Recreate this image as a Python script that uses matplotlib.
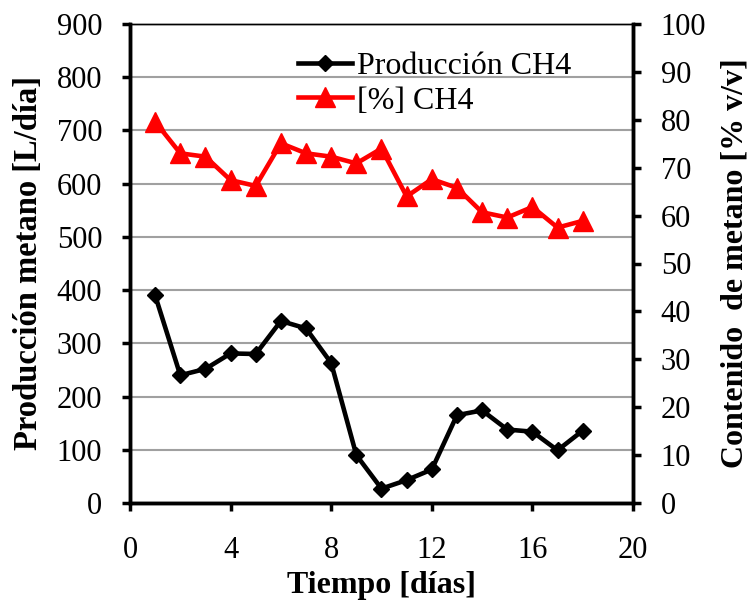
import matplotlib.pyplot as plt

plt.rcParams['font.family'] = ['Liberation Serif', 'DejaVu Serif']

dias = [1, 2, 3, 4, 5, 6, 7, 8, 9, 10, 11, 12, 13, 14, 15, 16, 17, 18]
produccion = [390, 240, 252, 281, 280, 342, 328, 263, 90, 27, 43, 63,
              165, 174, 138, 134, 99, 136]
porcentaje = [79.6, 73.0, 72.3, 67.4, 66.2, 75.1, 73.0, 72.3, 70.9, 74.0,
              64.0, 67.6, 65.8, 60.7, 59.6, 61.8, 57.5, 58.9]

fig = plt.figure(figsize=(7.53, 6.01), dpi=100)
ax = fig.add_axes([130/753, 1 - 503/601, 503/753, 479/601])
ax2 = ax.twinx()

l1, = ax.plot(dias, produccion, color='black', lw=3.3, marker='D', ms=8,
              label='Producción CH4', zorder=3)
l2, = ax2.plot(dias, porcentaje, color='red', lw=3.3, marker='^', ms=14,
               label='[%] CH4')

ax.set_xlim(0, 20)
ax.set_ylim(0, 900)
ax2.set_ylim(0, 100)
ax.set_xticks(range(0, 21, 4))
ax.set_yticks(range(0, 901, 100))
ax2.set_yticks(range(0, 101, 10))
ax.yaxis.grid(True, color='#a0a0a0', lw=1.5)
ax.set_axisbelow(True)

for a in (ax, ax2):
    for s in ['left', 'right', 'bottom']:
        a.spines[s].set_linewidth(2.5)
    a.spines['top'].set_linewidth(1)
    a.tick_params(labelsize=22, width=2.5, length=6, direction='out', pad=14)
ax.tick_params(axis='x', pad=18)

ax.set_xlabel('Tiempo [días]', fontsize=23, fontweight='bold', labelpad=4)
ax.set_ylabel('Producción metano [L/día]', fontsize=23.5, fontweight='bold',
              labelpad=9)
ax2.set_ylabel('Contenido  de metano [% v/v]', fontsize=23, fontweight='bold',
               labelpad=10)

fig.legend(handles=[l1, l2], loc='upper left',
           bbox_to_anchor=(298/753, 1 - 52/601), frameon=False, fontsize=23,
           handlelength=1.7, handletextpad=0.15, labelspacing=0.15,
           borderpad=0, borderaxespad=0)

fig.savefig('out.png', dpi=100)
